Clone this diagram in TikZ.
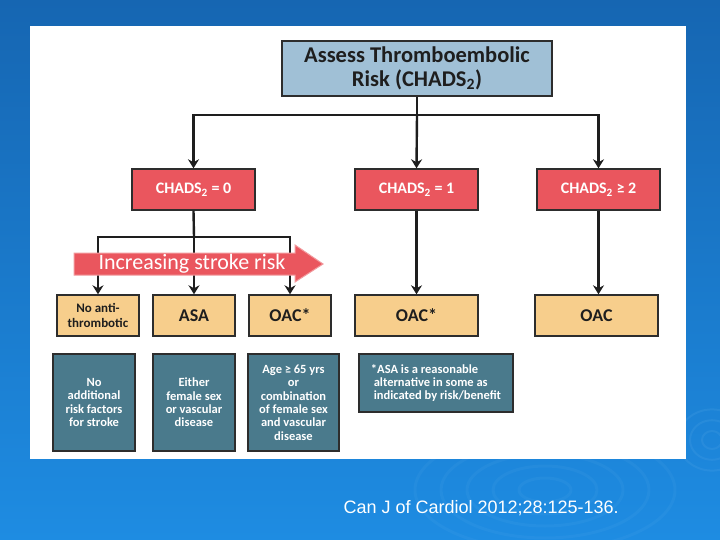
\documentclass[tikz,border=0pt]{standalone}
\usepackage{fontspec}
\setmainfont{Carlito}
\newfontfamily\arialf{Liberation Sans}
\usetikzlibrary{arrows.meta}
\definecolor{bgtop}{RGB}{22,102,178}
\definecolor{bgbot}{RGB}{30,140,226}
\definecolor{ripple}{RGB}{120,190,240}
\definecolor{topfill}{RGB}{160,192,214}
\definecolor{redfill}{RGB}{234,86,94}
\definecolor{yelfill}{RGB}{247,206,140}
\definecolor{tealfill}{RGB}{74,122,140}
\definecolor{boxline}{RGB}{45,45,45}
\definecolor{inkdark}{RGB}{30,30,30}
\tikzset{
  box/.style={draw=boxline, line width=1.4pt, inner sep=2pt, align=center, font=\bfseries},
  topbox/.style={box, fill=topfill, text=inkdark, font=\bfseries\fontsize{22.5}{24}\selectfont},
  redbox/.style={box, fill=redfill, text=white, minimum width=123pt, minimum height=41pt, font=\bfseries\fontsize{16}{18}\selectfont},
  yelbox/.style={box, fill=yelfill, text=inkdark, minimum height=41pt, font=\bfseries\fontsize{18}{20}\selectfont},
  tealbox/.style={box, fill=tealfill, text=white, font=\bfseries\fontsize{12.5}{13.4}\selectfont},
  conn/.style={draw=inkdark, line width=2.4pt},
  arr/.style={conn, -{Stealth[length=9pt,width=11pt]}},
}
\begin{document}
\begin{tikzpicture}[x=1pt,y=-1pt]
\useasboundingbox (0,0) rectangle (720,540);
\shade[top color=bgtop, bottom color=bgbot] (0,0) rectangle (720,540);
% faint ripples
\foreach \r in {20,40,60,80,100}{
  \draw[ripple, opacity=0.08, line width=3pt] (545,490) ellipse ({\r*1.3} and {\r*0.6});
}
\foreach \r in {10,22,34}{
  \draw[ripple, opacity=0.12, line width=2pt] (712,440) ellipse ({\r} and {\r*0.9});
}
\fill[white] (30,26) rectangle (686,459);

% top box
\node[topbox, minimum width=270pt, minimum height=55pt] (top) at (417,68.5)
  {Assess Thromboembolic\\Risk (CHADS\textsubscript{2})};

% CHADS boxes
\node[redbox] (c1) at (193.5,189.5) {CHADS\textsubscript{2} = 0};
\node[redbox] (c2) at (416.5,189.5) {CHADS\textsubscript{2} = 1};
\node[redbox] (c3) at (598.5,189.5) {CHADS\textsubscript{2} ≥ 2};

% treatment boxes
\node[yelbox, minimum width=82pt, font=\bfseries\fontsize{13}{14.5}\selectfont] (ya) at (98,315.5) {No anti-\\thrombotic};
\node[yelbox, minimum width=82pt] (yb) at (194,315.5) {ASA};
\node[yelbox, minimum width=82pt] (yc) at (290,315.5) {OAC*};
\node[yelbox, minimum width=123pt] (yd) at (416.5,315.5) {OAC*};
\node[yelbox, minimum width=123pt] (ye) at (596.5,315.5) {OAC};

% description boxes
\node[tealbox, minimum width=82pt, minimum height=97pt] (ta) at (94,402.5) {No\\additional\\risk factors\\for stroke};
\node[tealbox, minimum width=82pt, minimum height=97pt] (tb) at (194,402.5) {Either\\female sex\\or vascular\\disease};
\node[tealbox, minimum width=91pt, minimum height=97pt] (tc) at (293.5,402.5) {Age ≥ 65 yrs\\or\\combination\\of female sex\\and vascular\\disease};
\node[tealbox, minimum width=154pt, minimum height=58pt, align=left] (td) at (436,383) {*ASA is a reasonable\\\ alternative in some as\\\ indicated by risk/benefit};

% connectors from top
\coordinate (j1) at (417,115);
\draw[conn] (top.south) -- (j1);
\draw[arr] (j1) -- (c2.north);
\draw[arr] (j1) -| (c1.north);
\draw[arr] (j1) -| (c3.north);

% CHADS 0 branches
\coordinate (j2) at (194,237);
\draw[conn] (c1.south) -- (j2);
\draw[arr] (j2) -- (yb.north);
\draw[arr] (j2) -| (ya.north);
\draw[arr] (j2) -| (yc.north);

% CHADS 1 and >=2
\draw[arr] (c2.south) -- (yd.north);
\draw[arr] (c3.south) -- (c3.south |- ye.north);

% increasing stroke risk band
\path[fill=redfill, draw=redfill!60!white, line width=1pt]
  (74,253) -- (295,253) -- (295,245) -- (323,264) -- (295,282) -- (295,275) -- (74,275) -- cycle;
\node[text=white, font=\fontsize{22}{24}\selectfont, anchor=center] (bandtxt) at (192,263.5) {Increasing stroke risk};

% citation
\node[text=white, font=\arialf\fontsize{18}{20}\selectfont, anchor=west] (cite) at (340,508) {Can J of Cardiol 2012;28:125-136.};
\end{tikzpicture}
\end{document}
